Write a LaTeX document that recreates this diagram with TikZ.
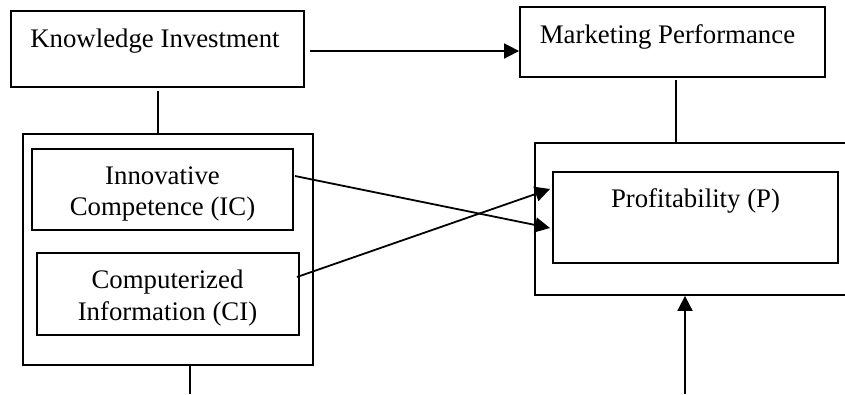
\documentclass[tikz,border=0pt]{standalone}
\usepackage{fontspec}
\setmainfont{Liberation Serif}
\usetikzlibrary{arrows.meta}
\begin{document}
\begin{tikzpicture}[x=1pt,y=-1pt,
  box/.style={draw=black, line width=1.8pt, inner sep=0pt},
  txt/.style={anchor=base, inner sep=0pt, font=\fontsize{26.8}{31}\selectfont},
  conn/.style={line width=1.8pt},
  arr/.style={line width=1.8pt, -{Triangle[length=15pt,width=15pt]}}]
\useasboundingbox (0,0) rectangle (845,394);
\begin{scope}
\clip (0,0) rectangle (845,394);
\node[box, minimum width=293pt, minimum height=76pt] (KI) at (157.5,49) {};
\node[box, minimum width=305pt, minimum height=70pt] (MP) at (672.5,42) {};
\node[box, minimum width=290pt, minimum height=231pt] (OL) at (168,249.5) {};
\node[box, minimum width=261pt, minimum height=81pt] (IC) at (162.5,189.5) {};
\node[box, minimum width=262pt, minimum height=82pt] (CI) at (168,294) {};
\node[box, minimum width=315pt, minimum height=152pt] (OR) at (692.5,219) {};
\node[box, minimum width=285pt, minimum height=91pt] (P) at (695.5,217.5) {};

\node[txt] (tKI) at (155,47) {Knowledge Investment};
\node[txt] (tMP) at (667.5,43) {Marketing Performance};
\node[txt] (tP) at (695.5,207) {Profitability (P)};
\node[txt] (tIC1) at (162.5,184) {Innovative};
\node[txt] (tIC2) at (162.5,215) {Competence (IC)};
\node[txt] (tCI1) at (167.5,288) {Computerized};
\node[txt] (tCI2) at (167.5,320) {Information (CI)};

\coordinate (kiR) at (310,51);
\coordinate (mpL) at (MP.west |- kiR);
\draw[arr] (kiR) -- (mpL);

\coordinate (kiB) at (158,91);
\draw[conn] (kiB) -- (kiB |- OL.north);

\coordinate (mpB) at (676,80);
\draw[conn] (mpB) -- (mpB |- OR.north);

\coordinate (icS) at (295,176);
\coordinate (pT1) at (550,228);
\draw[arr] (icS) -- (pT1);

\coordinate (ciS) at (297,277);
\coordinate (pT2) at (550,189);
\draw[arr] (ciS) -- (pT2);

\coordinate (olB) at (190,394);
\draw[conn] (olB |- OL.south) -- (olB);

\coordinate (orB) at (685,394);
\draw[arr] (orB) -- (orB |- OR.south);
\end{scope}
\end{tikzpicture}
\end{document}
